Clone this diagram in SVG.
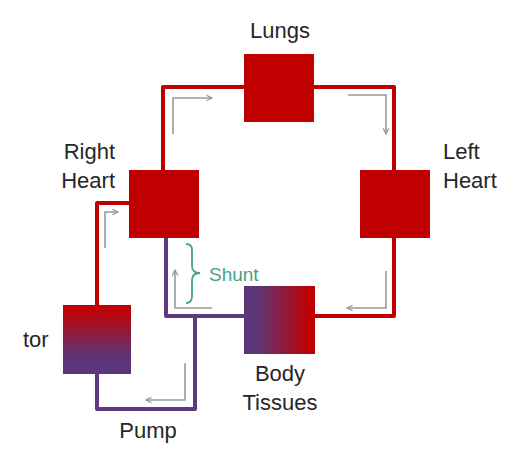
<svg xmlns="http://www.w3.org/2000/svg" width="517" height="457" viewBox="0 0 517 457">
  <style>
    .lbl { font-family: "Liberation Sans", Arial, sans-serif; font-size: 22px; fill: #262626; }
    .red { fill: none; stroke: #c00000; stroke-width: 4; stroke-linejoin: round; }
    .pur { fill: none; stroke: #5e3a80; stroke-width: 4; stroke-linejoin: round; }
    .flow { fill: none; stroke: #9a9a9a; stroke-width: 1.6; marker-end: url(#arr); }
    .box { fill: #c00000; }
    .shunt { font-family: "Liberation Sans", Arial, sans-serif; font-size: 19px; fill: #4aa088; }
  </style>
  <defs>
    <marker id="arr" viewBox="0 0 10 10" refX="9" refY="5" markerWidth="7" markerHeight="7" markerUnits="userSpaceOnUse" orient="auto">
      <path d="M1,1 L9,5 L1,9" fill="none" stroke="#9a9a9a" stroke-width="1.8"/>
    </marker>
    <linearGradient id="gBody" x1="0" y1="0" x2="1" y2="0">
      <stop offset="0.18" stop-color="#5b3679"/>
      <stop offset="0.92" stop-color="#c00000"/>
    </linearGradient>
    <linearGradient id="gOxy" x1="0" y1="0" x2="0" y2="1">
      <stop offset="0.05" stop-color="#c00000"/>
      <stop offset="0.78" stop-color="#5b3679"/>
    </linearGradient>
  </defs>

  <g id="connectors">
    <path class="red" d="M163,170 V87 H246"/>
    <path class="red" d="M312,87 H394 V172"/>
    <path class="red" d="M394,236 V316 H313"/>
    <path class="pur" d="M246,316 H166 V236"/>
    <path class="pur" d="M195,316 V409 H97 V372"/>
    <path class="red" d="M97,307 V203 H131"/>
    <path class="flow" d="M173,134 V98 H212"/>
    <path class="flow" d="M348,95 H386 V134"/>
    <path class="flow" d="M105,248 V212 H118"/>
    <path class="flow" d="M386,271 V308 H347"/>
    <path class="flow" d="M212,308 H175 V270"/>
    <path class="flow" d="M185,363 V400 H146"/>
  </g>

  <g id="lungs">
    <rect class="box" x="244" y="54" width="70" height="68"/>
    <text class="lbl" x="280" y="38" text-anchor="middle">Lungs</text>
  </g>
  <g id="right-heart">
    <rect class="box" x="129" y="170" width="70" height="68"/>
    <text class="lbl" x="115" y="159" text-anchor="end">Right</text>
    <text class="lbl" x="115" y="188" text-anchor="end">Heart</text>
  </g>
  <g id="left-heart">
    <rect class="box" x="360" y="170" width="70" height="68"/>
    <text class="lbl" x="443" y="159">Left</text>
    <text class="lbl" x="443" y="188">Heart</text>
  </g>
  <g id="body-tissues">
    <rect x="244" y="286" width="71" height="68" fill="url(#gBody)"/>
    <text class="lbl" x="280" y="381" text-anchor="middle">Body</text>
    <text class="lbl" x="280" y="410" text-anchor="middle">Tissues</text>
  </g>
  <g id="oxygenator">
    <rect x="63" y="305" width="68" height="69" fill="url(#gOxy)"/>
    <text class="lbl" x="23" y="347">tor</text>
  </g>
  <g id="pump">
    <text class="lbl" x="148" y="438" text-anchor="middle">Pump</text>
  </g>
  <g id="shunt">
    <path d="M186,244 Q192,244 192,250 V266 Q192,273 200,273 Q192,273 192,280 V296 Q192,303 186,303" fill="none" stroke="#4aa088" stroke-width="1.8"/>
    <text class="shunt" x="209" y="281">Shunt</text>
  </g>
</svg>
